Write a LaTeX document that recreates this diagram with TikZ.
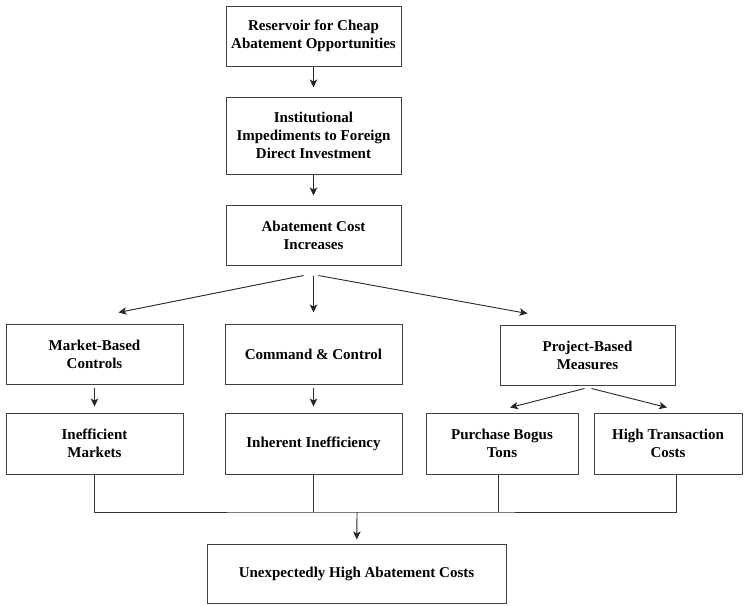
\documentclass[tikz,border=0pt]{standalone}
\usepackage{fontspec}
\setmainfont{Liberation Serif}
\usetikzlibrary{arrows.meta}

\tikzstyle{box} = [draw=black!75, line width=1pt, minimum width=175pt, minimum height=60pt, align=center, font=\fontsize{15}{18}\selectfont\bfseries, inner sep=2pt]
\tikzstyle{arr} = [draw=black!85, line width=0.9pt, -{Stealth[length=8pt,width=7.5pt,inset=2pt]}]
\tikzstyle{link} = [draw=black!80, line width=0.9pt]

\begin{document}
\begin{tikzpicture}[x=1pt, y=-1pt]
\useasboundingbox (0,0) rectangle (744,605);
\node[box] (res) at (313.5,36) {Reservoir for Cheap\\Abatement Opportunities};
\node[box, minimum height=77pt] (inst) at (313.5,135.5) {Institutional\\Impediments to Foreign\\Direct Investment};
\node[box] (cost) at (313.5,235) {Abatement Cost\\Increases};
\node[box, minimum width=177pt] (mkt) at (94.5,354) {Market-Based\\Controls};
\node[box, minimum width=177pt] (cmd) at (313.5,354) {Command \& Control};
\node[box] (prj) at (587.5,355) {Project-Based\\Measures};
\node[box, minimum width=177pt, minimum height=61pt] (ineff) at (94.5,443.5) {Inefficient\\Markets};
\node[box, minimum width=177pt, minimum height=61pt] (inher) at (313.5,443.5) {Inherent Inefficiency};
\node[box, minimum width=152pt, minimum height=61pt] (bogus) at (502,443.5) {Purchase Bogus\\Tons};
\node[box, minimum width=148pt, minimum height=61pt] (trans) at (668,443.5) {High Transaction\\Costs};
\node[box, minimum width=299pt, minimum height=59pt] (unexp) at (356.5,573.5) {Unexpectedly High Abatement Costs};
\coordinate (bus) at (357,512);

\draw[arr, shorten >=9pt] (res) -- (inst);
\draw[arr, shorten >=9pt] (inst) -- (cost);
\draw[arr] ([xshift=-10pt,yshift=-10pt]cost.south) -- ([xshift=24pt,yshift=11pt]mkt.north);
\draw[arr] ([yshift=-10pt]cost.south) -- ([yshift=11pt]cmd.north);
\draw[arr] ([xshift=5pt,yshift=-10pt]cost.south) -- ([xshift=-60pt,yshift=11pt]prj.north);
\draw[arr, shorten <=3pt, shorten >=6pt] (mkt) -- (ineff);
\draw[arr, shorten <=3pt, shorten >=6pt] (cmd) -- (inher);
\draw[arr] ([xshift=-3pt,yshift=-3pt]prj.south) -- ([xshift=8pt,yshift=5pt]bogus.north);
\draw[arr] ([xshift=4pt,yshift=-3pt]prj.south) -- ([xshift=-1pt,yshift=5pt]trans.north);
\draw[link] (ineff.south) |- (bus) -| ([xshift=8pt]trans.south);
\draw[link] (inher.south) -- (inher.south |- bus);
\draw[link] ([xshift=-4pt]bogus.south) -- ([xshift=-4pt]bogus.south |- bus);
\draw[arr, shorten >=4pt] (bus) -- (unexp);
\end{tikzpicture}
\end{document}
